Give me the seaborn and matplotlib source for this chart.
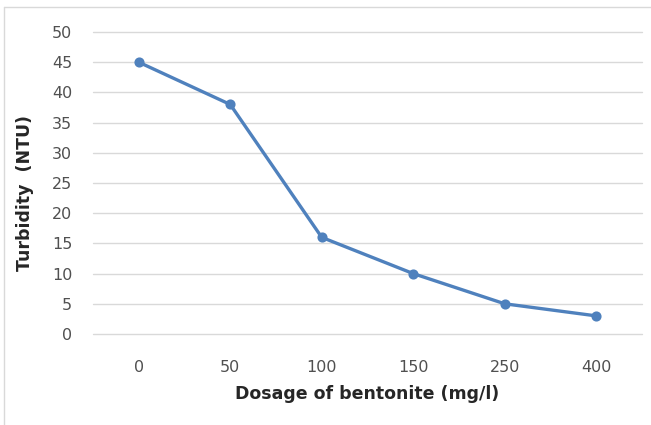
import matplotlib
matplotlib.use("Agg")
import matplotlib.pyplot as plt
import seaborn as sns
import pandas as pd
from matplotlib.lines import Line2D

dosage = ["0", "50", "100", "150", "250", "400"]
turbidity = [45, 38, 16, 10, 5, 3]
y_ticks = [0, 5, 10, 15, 20, 25, 30, 35, 40, 45, 50]

df = pd.DataFrame({"Dosage": dosage, "Turbidity": turbidity})

sns.set_theme(style="white")
plt.rcParams['font.family'] = ['DejaVu Sans']

fig = plt.figure(figsize=(6.51, 4.25), dpi=100)
ax = fig.add_axes([93/651, 1-334/425, (642-93)/651, (334-32)/425])

sns.pointplot(data=df, x="Dosage", y="Turbidity", order=dosage, ax=ax,
              color="#4F81BD", markers="o", markersize=5.5, linewidth=2.4,
              errorbar=None)

ax.set_ylim(0, 50)
ax.set_xlim(-0.5, 5.5)
ax.set_yticks(y_ticks)
ax.yaxis.grid(True, color="#D9D9D9", linewidth=1)
for gl in ax.get_ygridlines():
    gl.set_clip_on(False)
ax.set_axisbelow(True)
for s in ax.spines.values():
    s.set_visible(False)
ax.tick_params(axis="both", length=0, labelsize=11.5, labelcolor="#505050")
ax.tick_params(axis="x", pad=19)
ax.tick_params(axis="y", pad=15)
ax.set_xlabel("Dosage of bentonite (mg/l)", fontsize=12.5, fontweight="bold",
              color="#262626", labelpad=7)
ax.set_ylabel("Turbidity  (NTU)", fontsize=12.5, fontweight="bold",
              color="#262626")
ax.yaxis.set_label_coords(-0.108, 0.467)

# outer chart border (top and left visible)
fig.add_artist(Line2D([4/651, 1], [1-7/425, 1-7/425], color="#D9D9D9",
                      linewidth=1, transform=fig.transFigure))
fig.add_artist(Line2D([4/651, 4/651], [0, 1-7/425], color="#D9D9D9",
                      linewidth=1, transform=fig.transFigure))

fig.savefig("out.png", dpi=100)
